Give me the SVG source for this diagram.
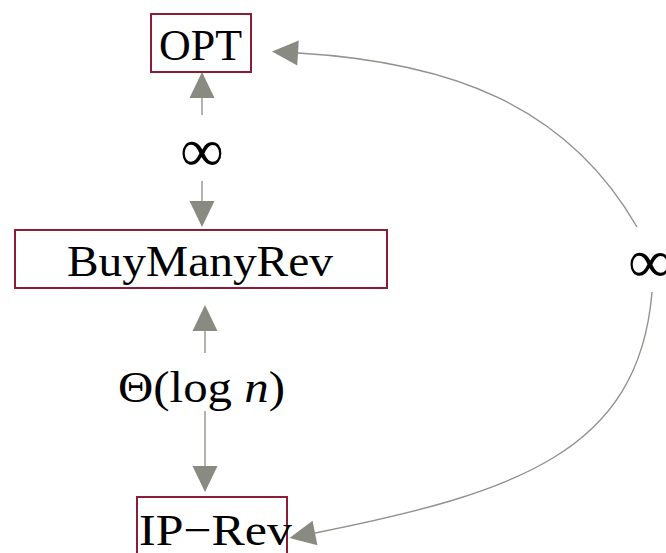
<svg xmlns="http://www.w3.org/2000/svg" width="666" height="553" viewBox="0 0 666 553">
  <style>
    .box { fill: #ffffff; stroke: #8c1d36; stroke-width: 2; }
    .lbl { font-family: "Liberation Serif", "DejaVu Serif", serif; font-size: 45px; fill: #000000; }
    .inf { font-family: "Liberation Serif", "DejaVu Serif", serif; font-size: 61px; fill: #000000; }
    .edge { fill: none; stroke: #92928c; stroke-width: 1.4; marker-end: url(#head); }
  </style>
  <defs>
    <!-- filled grey arrowhead; the path ends at the head's base -->
    <marker id="head" markerUnits="userSpaceOnUse" markerWidth="28" markerHeight="26" refX="0" refY="12.5" orient="auto" overflow="visible">
      <path d="M0,0 L26,12.5 L0,25 Z" fill="#898a82"/>
    </marker>
  </defs>

  <rect width="666" height="553" fill="#ffffff"/>

  <g id="connectors">
    <!-- OPT <-> BuyManyRev -->
    <path class="edge" d="M202,115 L202,98"/>
    <path class="edge" d="M202,181 L202,201"/>
    <!-- BuyManyRev <-> IP-Rev -->
    <path class="edge" d="M205,353 L205,331"/>
    <path class="edge" d="M205,411 L205,466"/>
    <!-- IP-Rev <-> OPT, curved on the right -->
    <path class="edge" d="M637,227 C567,105 450,62 298,53"/>
    <path class="edge" d="M652,292 C639,452 515,493 315,533"/>
  </g>

  <g id="edge-labels">
    <text class="inf" x="202" y="171" text-anchor="middle">∞</text>
    <text class="lbl" x="118" y="402" textLength="167" lengthAdjust="spacingAndGlyphs">Θ(log <tspan font-style="italic">n</tspan>)</text>
    <text class="inf" x="650" y="282" text-anchor="middle">∞</text>
  </g>

  <g id="node-opt">
    <rect class="box" x="151" y="14" width="100" height="58"/>
    <text class="lbl" x="159" y="60" textLength="83" lengthAdjust="spacingAndGlyphs">OPT</text>
  </g>

  <g id="node-buymanyrev">
    <rect class="box" x="15" y="230" width="372" height="58"/>
    <text class="lbl" x="67" y="276" textLength="266" lengthAdjust="spacingAndGlyphs">BuyManyRev</text>
  </g>

  <g id="node-iprev">
    <rect class="box" x="137" y="497" width="150" height="70"/>
    <text class="lbl" x="139" y="545" textLength="153" lengthAdjust="spacingAndGlyphs">IP−Rev</text>
  </g>
</svg>
